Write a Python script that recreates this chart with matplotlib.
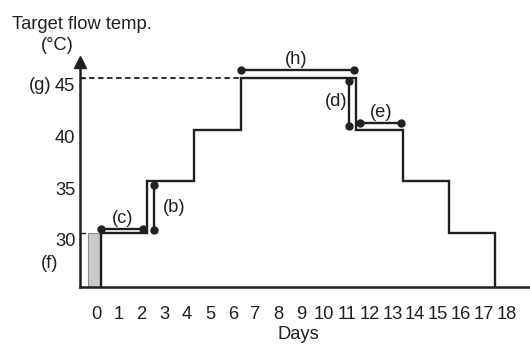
import matplotlib
matplotlib.use("Agg")
import matplotlib.pyplot as plt
import matplotlib.transforms as mtransforms

plt.rcParams['font.family'] = ['Liberation Sans', 'DejaVu Sans']

# schedule steps (days where the target changes) and target temps between them
step_days = [0.22, 2.25, 4.3, 6.35, 11.4, 13.45, 15.48, 17.5]
step_temps = [30, 35, 40, 45, 40, 35, 30]

day_ticks = list(range(0, 19))
temp_ticks = [30, 35, 40, 45]
max_temp = 45

# annotation segments: (x0, x1, y0, y1)
seg_c = (0.22, 2.07, 30.4, 30.4)
seg_b = (2.56, 2.56, 30.3, 34.65)
seg_h = (6.36, 11.32, 45.8, 45.8)
seg_d = (11.1, 11.1, 44.7, 40.35)
seg_e = (11.6, 13.4, 40.6, 40.6)

labels = {
    "(c)": (1.15, 31.4),
    "(b)": (3.45, 32.5),
    "(h)": (8.8, 46.75),
    "(d)": (10.55, 42.75),
    "(e)": (12.5, 41.7),
    "(g)": (-2.45, 44.3),
    "(f)": (-2.02, 27.0),
}

ink = "#231f20"
fs = 13.2
xmin, xmax = -0.72, 19.04
ymin, ymax = 24.8, 46.5

fig = plt.figure(figsize=(5.3, 3.44), dpi=100)
ax = fig.add_axes([79.5 / 530, 57.3 / 344, 1 - 79.5 / 530, 224.2 / 344])
ax.set_xlim(xmin, xmax)
ax.set_ylim(ymin, ymax)

for s in ["top", "right"]:
    ax.spines[s].set_visible(False)
for s in ["left", "bottom"]:
    ax.spines[s].set_linewidth(1.8)
    ax.spines[s].set_color(ink)

# arrow head on y axis
ax.plot(0, 1, marker="^", color=ink, markersize=9, transform=ax.transAxes,
        clip_on=False)

# gray warm-up bar
ax.bar(-0.34, 30 - ymin, width=step_days[0] + 0.34, bottom=ymin, align="edge",
       color="#c8c9cb", edgecolor="#8c8c8c", linewidth=0.8, zorder=1)

# step schedule
ax.stairs(step_temps, step_days, baseline=ymin, color=ink, linewidth=1.7,
          zorder=3)

# dashed max line
ax.hlines(max_temp, xmin, step_days[3], colors=ink, linestyles=(0, (3, 2)),
          linewidth=1.3)

for x0, x1, y0, y1 in [seg_c, seg_b, seg_h, seg_d, seg_e]:
    ax.plot([x0, x1], [y0, y1], color=ink, linewidth=1.7, marker="o",
            markersize=5, zorder=4, clip_on=False)

for txt, (x, y) in labels.items():
    ax.text(x, y, txt, fontsize=fs, color=ink, ha="center", va="center",
            clip_on=False)

# ticks
ax.set_xticks(day_ticks)
ax.set_xticklabels([str(d) for d in day_ticks], fontsize=fs, color=ink)
ax.tick_params(axis="x", length=0, pad=14)
ax.set_yticks(temp_ticks)
ax.set_yticklabels([str(t) for t in temp_ticks], fontsize=fs, color=ink)
ax.tick_params(axis="y", length=0, pad=3)
shift = mtransforms.ScaledTranslation(0, -0.07, fig.dpi_scale_trans)
for lab in ax.get_yticklabels():
    lab.set_transform(lab.get_transform() + shift)
for t in [30, 45]:
    ax.plot([0, 0.013], [t, t], color=ink, linewidth=1.0,
            transform=ax.get_yaxis_transform())

fig.text(12 / 530, 1 - 29 / 344, "Target flow temp.", fontsize=fs,
         color=ink, ha="left", va="baseline")
fig.text(57 / 530, 1 - 46 / 344, "(\u00b0C)", fontsize=fs, color=ink,
         ha="center", va="center")
fig.text(298 / 530, 1 - 339 / 344, "Days", fontsize=fs, color=ink,
         ha="center", va="baseline")

fig.savefig("out.png", dpi=100)
